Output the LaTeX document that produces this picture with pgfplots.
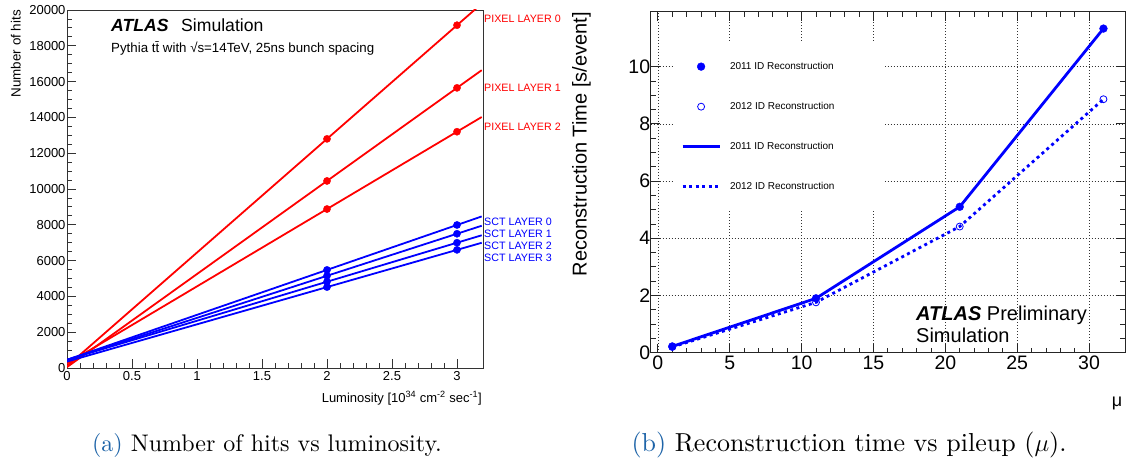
\documentclass[border=0pt]{standalone}
\usepackage{fontspec}
\usepackage{pgfplots}
\pgfplotsset{compat=1.18}
\newfontfamily\arial{Liberation Sans}
\newfontfamily\capfont{lmroman10-regular}[Extension=.otf]
\definecolor{capblue}{RGB}{30,100,168}
\definecolor{rootred}{RGB}{255,0,0}
\definecolor{rootblue}{RGB}{0,0,255}

% hit counts per layer: fitted line end points and simulated points
\pgfplotstableread{
x y
0 100
3.19 20356
}\pixA
\pgfplotstableread{
x y
0 50
3.19 16638
}\pixB
\pgfplotstableread{
x y
0 240
3.19 14021
}\pixC
\pgfplotstableread{
x y
0 460
3.19 8467
}\sctA
\pgfplotstableread{
x y
0 450
3.19 7947
}\sctB
\pgfplotstableread{
x y
0 460
3.19 7414
}\sctC
\pgfplotstableread{
x y
0 360
3.19 6995
}\sctD

\pgfplotsset{
  rootleg/.style={legend image code/.code={%
    \draw[mark repeat=2,mark phase=2,##1] plot coordinates {(0pt,0pt) (18.5pt,0pt) (37pt,0pt)};}},
}

\begin{document}
\begin{tikzpicture}[x=1pt,y=1pt]
\useasboundingbox (0,0) rectangle (1131,463);

% ---------- (a) hits vs luminosity ----------
\begin{axis}[
  at={(67pt,95pt)}, anchor=south west, scale only axis,
  width=416pt, height=358pt,
  xmin=0, xmax=3.2, ymin=0, ymax=20000,
  clip mode=individual,
  axis line style={black!80, line width=0.8pt},
  tick align=inside, xtick pos=lower, ytick pos=left,
  xtick={0,0.5,1,1.5,2,2.5,3}, minor x tick num=4,
  ytick={0,2000,...,20000}, minor y tick num=3,
  major tick length=9pt, minor tick length=5pt,
  tick style={black!80, line width=0.8pt},
  scaled y ticks=false,
  /pgf/number format/assume math mode=true,
  /pgf/number format/1000 sep={},
  ticklabel style={font=\arial\fontsize{13}{15}\selectfont},
  yticklabel style={xshift=2pt},
]
\addplot[rootred, line width=1.8pt] table {\pixA};
\addplot[rootred, line width=1.8pt] table {\pixB};
\addplot[rootred, line width=1.8pt] table {\pixC};
\addplot[rootblue, line width=1.8pt] table {\sctA};
\addplot[rootblue, line width=1.8pt] table {\sctB};
\addplot[rootblue, line width=1.8pt] table {\sctC};
\addplot[rootblue, line width=1.8pt] table {\sctD};
\addplot[rootred, only marks, mark=*, mark size=3.6pt] coordinates {(2,12800) (3,19150)};
\addplot[rootred, only marks, mark=*, mark size=3.6pt] coordinates {(2,10450) (3,15650)};
\addplot[rootred, only marks, mark=*, mark size=3.6pt] coordinates {(2,8880) (3,13200)};
\addplot[rootblue, only marks, mark=*, mark size=3.6pt] coordinates {(2,5480) (3,7990)};
\addplot[rootblue, only marks, mark=*, mark size=3.6pt] coordinates {(2,5150) (3,7500)};
\addplot[rootblue, only marks, mark=*, mark size=3.6pt] coordinates {(2,4820) (3,7000)};
\addplot[rootblue, only marks, mark=*, mark size=3.6pt] coordinates {(2,4520) (3,6600)};
\begin{scope}[font=\arial\fontsize{10.7}{12}\selectfont, inner sep=0pt]
\node[rootred, anchor=west] at (axis cs:3.2,19500) {\hspace{1pt}PIXEL LAYER 0};
\node[rootred, anchor=west] at (axis cs:3.2,15640) {\hspace{1pt}PIXEL LAYER 1};
\node[rootred, anchor=west] at (axis cs:3.2,13460) {\hspace{1pt}PIXEL LAYER 2};
\node[rootblue, anchor=west] at (axis cs:3.2,8156) {\hspace{1pt}SCT LAYER 0};
\node[rootblue, anchor=west] at (axis cs:3.2,7486) {\hspace{1pt}SCT LAYER 1};
\node[rootblue, anchor=west] at (axis cs:3.2,6816) {\hspace{1pt}SCT LAYER 2};
\node[rootblue, anchor=west] at (axis cs:3.2,6145) {\hspace{1pt}SCT LAYER 3};
\end{scope}
\end{axis}

\node[anchor=base west, inner sep=0pt, font=\arial\fontsize{17.6}{20}\selectfont]
  at (111,431.3) {{\bfseries\itshape ATLAS}\hspace{0.72em}Simulation};
\node[anchor=base west, inner sep=0pt, font=\arial\fontsize{13.3}{15}\selectfont]
  at (111,410.7) {Pythia t\={t} with √s=14TeV, 25ns bunch spacing};
\node[rotate=90, anchor=south east, inner sep=0pt, font=\arial\fontsize{13.4}{15}\selectfont]
  at (21,453) {Number of hits};
\node[anchor=base east, inner sep=0pt, font=\arial\fontsize{13}{15}\selectfont]
  at (482,61) {Luminosity [10\textsuperscript{34} cm\textsuperscript{-2} sec\textsuperscript{-1}]};

% ---------- (b) reconstruction time vs pileup ----------
\begin{axis}[
  at={(650.7pt,110.3pt)}, anchor=south west, scale only axis,
  width=474.3pt, height=341pt,
  xmin=-0.5, xmax=32.5, ymin=0, ymax=11.92,
  clip mode=individual,
  axis line style={black!85, line width=0.9pt},
  tick align=inside,
  xtick={0,5,...,30}, minor x tick num=4,
  ytick={0,2,...,10}, minor y tick num=3,
  major tick length=9pt, minor tick length=5pt,
  tick style={black!85, line width=0.8pt},
  grid=major,
  major grid style={black!80, line width=0.6pt, dash pattern=on 1pt off 2pt},
  /pgf/number format/assume math mode=true,
  ticklabel style={font=\arial\fontsize{19.5}{22}\selectfont},
  yticklabel style={xshift=3pt},
  legend style={at={(0.047,0.911)}, anchor=north west, draw=none, fill=white,
    font=\arial\fontsize{10}{12}\selectfont, row sep=27.3pt,
    inner xsep=8pt, inner ysep=18pt},
  legend cell align=left,
]
\addplot[rootblue, only marks, mark=*, mark size=3.9pt, rootleg] coordinates {(1,0.22) (11,1.9) (21,5.1) (31,11.33)};
\addlegendentry{\hspace{7pt}\makebox[145pt][l]{2011 ID Reconstruction}}
\addplot[rootblue, only marks, mark=o, mark size=3.5pt, mark options={line width=0.8pt}, rootleg] coordinates {(1,0.2) (11,1.76) (21,4.41) (31,8.86)};
\addlegendentry{\hspace{7pt}\makebox[145pt][l]{2012 ID Reconstruction}}
\addplot[rootblue, line width=2.8pt, rootleg] coordinates {(1,0.22) (11,1.9) (21,5.1) (31,11.33)};
\addlegendentry{\hspace{7pt}\makebox[145pt][l]{2011 ID Reconstruction}}
\addplot[rootblue, line width=2.8pt, dash pattern=on 3pt off 3.5pt, rootleg] coordinates {(1,0.2) (11,1.76) (21,4.41) (31,8.86)};
\addlegendentry{\hspace{7pt}\makebox[145pt][l]{2012 ID Reconstruction}}
\end{axis}

\node[anchor=base west, inner sep=0pt, font=\arial\fontsize{20}{22}\selectfont]
  at (916,142) {{\bfseries\itshape ATLAS} Preliminary};
\node[anchor=base west, inner sep=0pt, font=\arial\fontsize{20}{22}\selectfont]
  at (916,120) {Simulation};
\node[rotate=90, anchor=south east, inner sep=0pt, font=\arial\fontsize{20}{22}\selectfont]
  at (591,451) {Reconstruction Time [s/event]};
\node[anchor=base, inner sep=0pt, font=\arial\fontsize{18}{20}\selectfont]
  at (1117,57) {μ};

% ---------- captions ----------
\node[anchor=base, inner sep=0pt, font=\capfont\fontsize{24}{28}\selectfont]
  at (267,11.5) {\textcolor{capblue}{(a)} Number of hits vs luminosity.};
\node[anchor=base, inner sep=0pt, font=\capfont\fontsize{26}{30}\selectfont]
  at (849,11.5) {\textcolor{capblue}{(b)} Reconstruction time vs pileup ($\mu$).};
\end{tikzpicture}
\end{document}
